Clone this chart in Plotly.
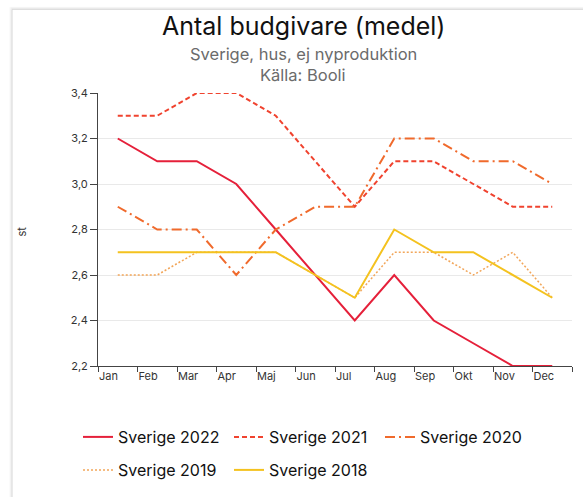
import plotly.graph_objects as go

# Månader och genomsnittligt antal budgivare per år
months = ["Jan", "Feb", "Mar", "Apr", "Maj", "Jun", "Jul", "Aug", "Sep", "Okt", "Nov", "Dec"]
sverige_2022 = [3.2, 3.1, 3.1, 3.0, 2.8, 2.6, 2.4, 2.6, 2.4, 2.3, 2.2, 2.2]
sverige_2021 = [3.3, 3.3, 3.4, 3.4, 3.3, 3.1, 2.9, 3.1, 3.1, 3.0, 2.9, 2.9]
sverige_2020 = [2.9, 2.8, 2.8, 2.6, 2.8, 2.9, 2.9, 3.2, 3.2, 3.1, 3.1, 3.0]
sverige_2019 = [2.6, 2.6, 2.7, 2.7, 2.7, 2.6, 2.5, 2.7, 2.7, 2.6, 2.7, 2.5]
sverige_2018 = [2.7, 2.7, 2.7, 2.7, 2.7, 2.6, 2.5, 2.8, 2.7, 2.7, 2.6, 2.5]
y_ticks = [2.2, 2.4, 2.6, 2.8, 3.0, 3.2, 3.4]

W, H = 583, 497
L, R, T, B = 98, 11, 93, 130
PW, PH = W - L - R, H - T - B


def px_x(p):
    return (p - L) / PW


def px_y(p):
    return (H - B - p) / PH


# Each month value sits in the middle of its month interval
x_mid = [i + 0.5 for i in range(len(months))]

series = [
    ("Sverige 2022", sverige_2022, "#e5203a", "solid", 2, "legend"),
    ("Sverige 2021", sverige_2021, "#f0432f", "5px,3px", 2, "legend"),
    ("Sverige 2020", sverige_2020, "#f06a2c", "10px,4px,2px,4px", 2, "legend"),
    ("Sverige 2019", sverige_2019, "#f2a65a", "2px,2px", 1.5, "legend2"),
    ("Sverige 2018", sverige_2018, "#f4c21f", "solid", 2, "legend2"),
]

fig = go.Figure()
for name, vals, color, dash, w, leg in series:
    fig.add_trace(go.Scatter(
        x=x_mid, y=vals, mode="lines", name=name, legend=leg,
        line=dict(color=color, dash=dash, width=w),
    ))

font = "Inter, Lato, sans-serif"
legend_style = dict(
    orientation="h", xanchor="left", yanchor="middle",
    font=dict(size=16, color="#111", family=font),
    entrywidth=106, entrywidthmode="pixels", itemwidth=30,
    bgcolor="rgba(0,0,0,0)",
)

fig.update_layout(
    width=W, height=H,
    margin=dict(l=L, r=R, t=T, b=B),
    paper_bgcolor="white", plot_bgcolor="white",
    separators=", ",
    font=dict(family=font, color="#333"),
    showlegend=True,
    legend=dict(x=px_x(78), y=px_y(437), **legend_style),
    legend2=dict(x=px_x(78), y=px_y(470), **legend_style),
    xaxis=dict(
        range=[0, 12], showgrid=False, zeroline=False,
        tickmode="array", tickvals=list(range(13)), ticktext=months + [""],
        ticklabelposition="outside right",
        ticks="outside", ticklen=5, tickcolor="#444",
        showline=True, linecolor="#444", linewidth=1,
        tickfont=dict(size=11, color="#333"),
        fixedrange=True,
    ),
    yaxis=dict(
        range=[2.2, 3.4], tickmode="array", tickvals=y_ticks, tickformat=".1f",
        showgrid=True, gridcolor="#e9e9e9", gridwidth=1, zeroline=False,
        ticks="outside", ticklen=7, tickcolor="#444",
        showline=True, linecolor="#444", linewidth=1,
        tickfont=dict(size=11, color="#333"),
        fixedrange=True,
    ),
)

# Titles
titles = [
    ("Antal budgivare (medel)", 26, 25, "#111"),
    ("Sverige, hus, ej nyproduktion", 54, 16.5, "#6b6b6b"),
    ("Källa: Booli", 75, 16.5, "#6b6b6b"),
]
for text, py, size, col in titles:
    fig.add_annotation(text=text, xref="paper", yref="paper",
                       x=px_x(303), y=px_y(py), xanchor="center", yanchor="middle",
                       showarrow=False, font=dict(size=size, color=col, family=font))
fig.add_annotation(text="st", xref="paper", yref="paper",
                   x=px_x(22), y=px_y(232), xanchor="center", yanchor="middle",
                   showarrow=False, textangle=-90,
                   font=dict(size=11, color="#333", family=font))

# Card frame with a soft edge on the left and top
for off, col in [(2, "#f6f6f6"), (1, "#ececec"), (0, "#d6d6d6")]:
    fig.add_shape(type="line", xref="paper", yref="paper",
                  x0=px_x(12 - off), x1=px_x(12 - off), y0=px_y(9 - off), y1=px_y(H + 5),
                  line=dict(color=col, width=1))
    fig.add_shape(type="line", xref="paper", yref="paper",
                  x0=px_x(12 - off), x1=px_x(W + 5), y0=px_y(9 - off), y1=px_y(9 - off),
                  line=dict(color=col, width=1))

fig.write_html("out.html")
